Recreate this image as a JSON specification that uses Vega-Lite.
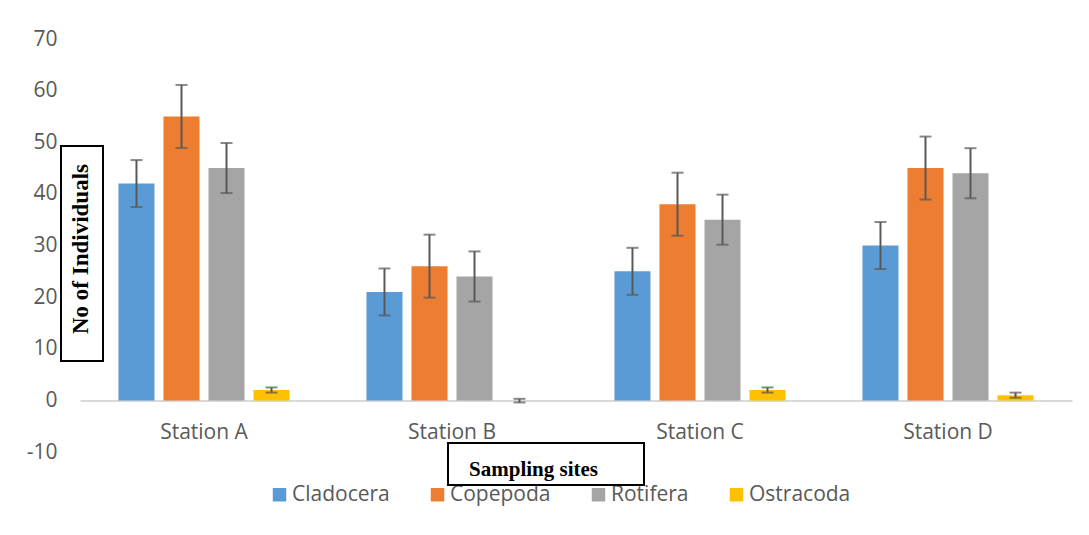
{
  "$schema": "https://vega.github.io/schema/vega-lite/v6.json",
  "width": 992,
  "height": 413,
  "autosize": {"type": "none"},
  "padding": {"left": 80, "top": 39, "right": 17, "bottom": 83},
  "background": "white",
  "config": {"view": {"stroke": null}, "font": "Open Sans", "legend": {"strokeWidth": 2}},
  "data": {"values": [
    {"station": "Station A", "species": "Cladocera", "value": 42, "lo": 37.45, "hi": 46.55},
    {"station": "Station A", "species": "Copepoda", "value": 55, "lo": 48.9, "hi": 61.1},
    {"station": "Station A", "species": "Rotifera", "value": 45, "lo": 40.15, "hi": 49.85},
    {"station": "Station A", "species": "Ostracoda", "value": 2, "lo": 1.5, "hi": 2.5},
    {"station": "Station B", "species": "Cladocera", "value": 21, "lo": 16.45, "hi": 25.55},
    {"station": "Station B", "species": "Copepoda", "value": 26, "lo": 19.9, "hi": 32.1},
    {"station": "Station B", "species": "Rotifera", "value": 24, "lo": 19.15, "hi": 28.85},
    {"station": "Station B", "species": "Ostracoda", "value": 0, "lo": -0.4, "hi": 0.3},
    {"station": "Station C", "species": "Cladocera", "value": 25, "lo": 20.45, "hi": 29.55},
    {"station": "Station C", "species": "Copepoda", "value": 38, "lo": 31.9, "hi": 44.1},
    {"station": "Station C", "species": "Rotifera", "value": 35, "lo": 30.15, "hi": 39.85},
    {"station": "Station C", "species": "Ostracoda", "value": 2, "lo": 1.5, "hi": 2.5},
    {"station": "Station D", "species": "Cladocera", "value": 30, "lo": 25.45, "hi": 34.55},
    {"station": "Station D", "species": "Copepoda", "value": 45, "lo": 38.9, "hi": 51.1},
    {"station": "Station D", "species": "Rotifera", "value": 44, "lo": 39.15, "hi": 48.85},
    {"station": "Station D", "species": "Ostracoda", "value": 1, "lo": 0.5, "hi": 1.5}
  ]},
  "layer": [
    {
      "mark": {"type": "bar"},
      "encoding": {
        "x": {"field": "station", "type": "nominal", "title": null,
          "scale": {"paddingInner": 0.274, "paddingOuter": 0.137},
          "axis": {"orient": "bottom", "offset": -51.6, "domainColor": "#d9d9d9", "domainWidth": 2, "ticks": false, "labelPadding": 21, "labelFontSize": 21, "labelColor": "#595959", "labelFont": "Open Sans", "labelAngle": 0}},
        "xOffset": {"field": "species", "type": "nominal", "sort": ["Cladocera", "Copepoda", "Rotifera", "Ostracoda"], "scale": {"paddingInner": 0.2, "paddingOuter": 0.1}},
        "y": {"field": "value", "type": "quantitative", "title": null,
          "scale": {"domain": [-10, 70], "nice": false},
          "axis": {"values": [-10, 0, 10, 20, 30, 40, 50, 60, 70], "labelExpr": "toString(datum.value)", "domain": false, "ticks": false, "grid": false, "labelPadding": 23, "labelFontSize": 21, "labelColor": "#595959", "labelFont": "Open Sans"}},
        "color": {"field": "species", "type": "nominal", "sort": ["Cladocera", "Copepoda", "Rotifera", "Ostracoda"],
          "scale": {"domain": ["Cladocera", "Copepoda", "Rotifera", "Ostracoda"], "range": ["#5B9BD5", "#ED7D31", "#A5A5A5", "#FFC000"]},
          "legend": {"title": null, "orient": "none", "legendX": 189, "legendY": 445, "direction": "horizontal", "columns": 4, "symbolType": "square", "symbolSize": 182, "symbolStrokeWidth": 0, "labelOffset": 2, "columnPadding": 37, "labelFontSize": 21, "labelColor": "#595959", "labelFont": "Open Sans", "padding": 0}}
      }
    },
    {
      "mark": {"type": "rule", "color": "#595959", "strokeWidth": 2},
      "encoding": {
        "x": {"field": "station", "type": "nominal", "title": null},
        "xOffset": {"field": "species", "type": "nominal", "sort": ["Cladocera", "Copepoda", "Rotifera", "Ostracoda"]},
        "y": {"field": "lo", "type": "quantitative", "title": null},
        "y2": {"field": "hi"}
      }
    },
    {
      "mark": {"type": "tick", "color": "#595959", "thickness": 2, "size": 12},
      "encoding": {
        "x": {"field": "station", "type": "nominal", "title": null},
        "xOffset": {"field": "species", "type": "nominal", "sort": ["Cladocera", "Copepoda", "Rotifera", "Ostracoda"]},
        "y": {"field": "lo", "type": "quantitative", "title": null}
      }
    },
    {
      "mark": {"type": "tick", "color": "#595959", "thickness": 2, "size": 12},
      "encoding": {
        "x": {"field": "station", "type": "nominal", "title": null},
        "xOffset": {"field": "species", "type": "nominal", "sort": ["Cladocera", "Copepoda", "Rotifera", "Ostracoda"]},
        "y": {"field": "hi", "type": "quantitative", "title": null}
      }
    },
    {
      "data": {"values": [{"k": 0}]},
      "mark": {"type": "point", "opacity": 0, "size": 0},
      "encoding": {
        "stroke": {"field": "k", "type": "quantitative",
          "scale": {"domain": [0, 1], "range": ["white", "white"]},
          "legend": {"title": "No of Individuals", "orient": "none", "legendX": -19, "legendY": 107, "direction": "vertical", "titleOrient": "left", "titleAnchor": "middle", "titleFont": "Liberation Serif", "titleFontWeight": "bold", "titleFontSize": 23, "titleColor": "black", "titlePadding": 0, "gradientLength": 197, "gradientThickness": 0, "gradientOpacity": 0, "gradientStrokeWidth": 0, "labelExpr": "''", "labelFontSize": 0, "labelOffset": 0, "padding": 9, "strokeColor": "black", "fillColor": "white"}}
      }
    },
    {
      "data": {"values": [{"m": 0}]},
      "mark": {"type": "point", "opacity": 0, "size": 0},
      "encoding": {
        "fill": {"field": "m", "type": "quantitative",
          "scale": {"domain": [0, 2], "range": ["white", "white"]},
          "legend": {"title": null, "orient": "none", "legendX": 368, "legendY": 404, "direction": "horizontal", "gradientLength": 186, "gradientThickness": 0, "gradientOpacity": 0, "gradientStrokeWidth": 0, "values": [0.866], "labelExpr": "'Sampling sites'", "labelAlign": "center", "labelFont": "Liberation Serif", "labelFontWeight": "bold", "labelFontSize": 21, "labelColor": "black", "labelOffset": 11, "padding": 5, "strokeColor": "black", "fillColor": "white"}}
      }
    }
  ]
}
